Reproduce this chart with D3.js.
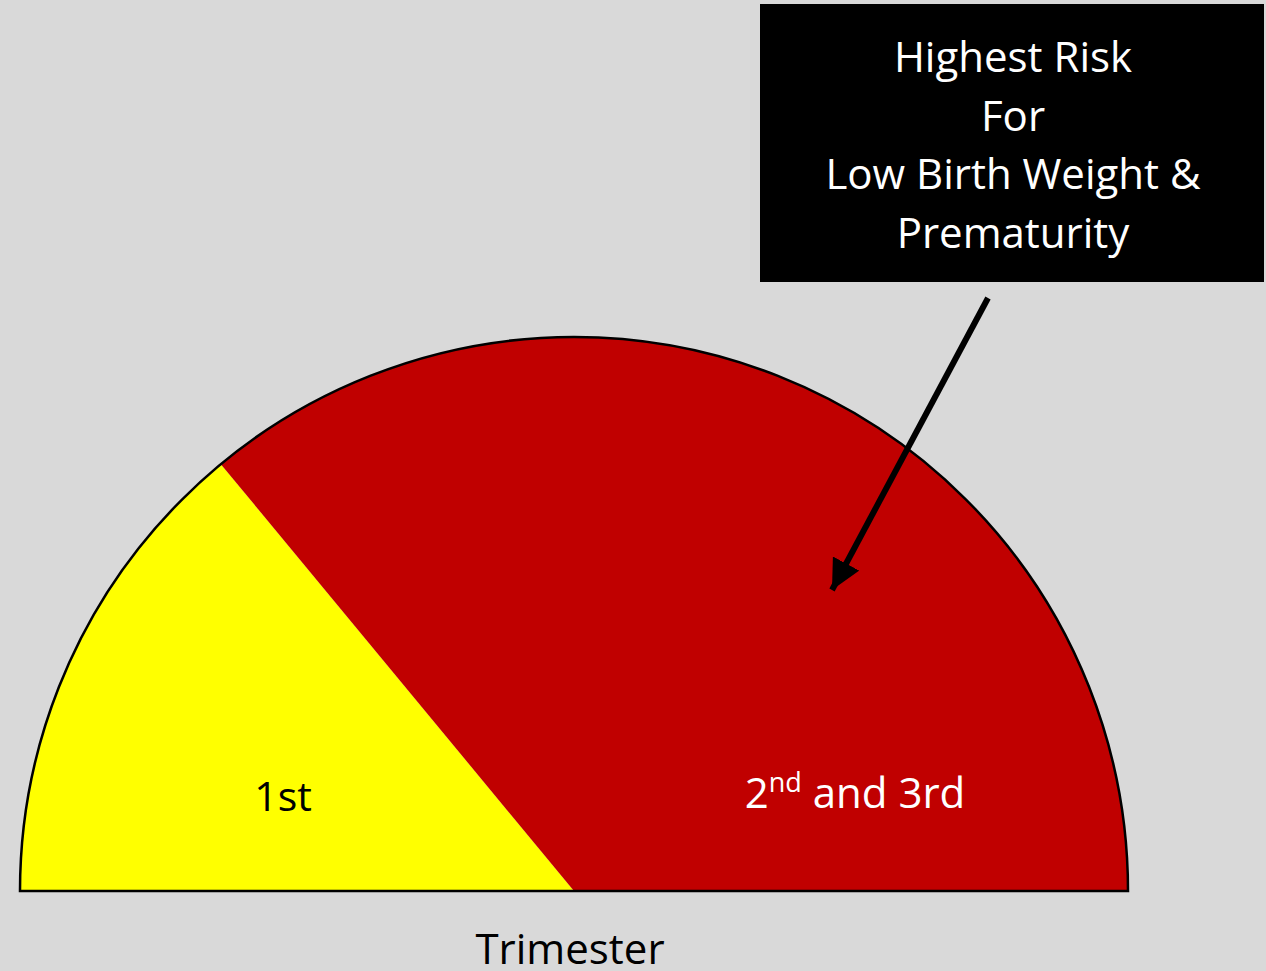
<!DOCTYPE html>
<html><head><meta charset="utf-8">
<script src="https://cdn.jsdelivr.net/npm/d3@7"></script>
<style>html,body{margin:0;padding:0;background:#d9d9d9;overflow:hidden}</style>
</head><body>
<svg id="c" width="1266" height="971"></svg>
<script>
const categories = ["1st", "2nd and 3rd"];
const values = [28, 72];
const colors = ["#ffff00", "#c00000"];
const axisTitle = "Trimester";
const calloutLines = ["Highest Risk", "For", "Low Birth Weight &", "Prematurity"];

const W = 1266, H = 971;
const svg = d3.select("#c");
svg.append("rect").attr("width", W).attr("height", H).attr("fill", "#d9d9d9");

const cx = 574, cy = 891, R = 554;
const font = "'Open Sans', Lato, sans-serif";

const pie = d3.pie().sort(null).startAngle(-Math.PI / 2).endAngle(Math.PI / 2);
const arcs = pie(values);
const arc = d3.arc().innerRadius(0).outerRadius(R);

const g = svg.append("g").attr("transform", `translate(${cx},${cy})`);
g.selectAll("path.slice").data(arcs).join("path")
  .attr("class", "slice")
  .attr("d", arc)
  .attr("fill", (d, i) => colors[i]);

g.append("path")
  .attr("d", d3.arc().innerRadius(0).outerRadius(R)({startAngle: -Math.PI / 2, endAngle: Math.PI / 2}))
  .attr("fill", "none").attr("stroke", "#000").attr("stroke-width", 2.5)
  .attr("stroke-linejoin", "miter");

g.append("text").attr("x", 283 - cx).attr("y", 811 - cy)
  .attr("text-anchor", "middle").attr("font-family", font).attr("font-size", 41)
  .attr("fill", "#000").text(categories[0]);

const t2 = g.append("text").attr("x", 855 - cx).attr("y", 808 - cy)
  .attr("text-anchor", "middle").attr("font-family", font).attr("font-size", 42)
  .attr("fill", "#fff");
const parts = categories[1].match(/^(\d)(\w+)(.*)$/);
t2.append("tspan").text(parts[1]);
t2.append("tspan").attr("dy", -16).attr("font-size", 27).text(parts[2]);
t2.append("tspan").attr("dy", 16).text(parts[3]);

svg.append("text").attr("x", 570).attr("y", 964).attr("text-anchor", "middle")
  .attr("font-family", font).attr("font-size", 42).attr("fill", "#000").text(axisTitle);

svg.append("rect").attr("x", 760).attr("y", 4).attr("width", 504).attr("height", 278).attr("fill", "#000");
const ct = svg.append("text").attr("text-anchor", "middle").attr("font-family", font)
  .attr("font-size", 42).attr("fill", "#fff");
calloutLines.forEach((l, i) => {
  ct.append("tspan").attr("x", 1013).attr("y", 72 + i * 58.5).text(l);
});

const defs = svg.append("defs");
defs.append("marker").attr("id", "ah").attr("viewBox", "0 0 10 10")
  .attr("refX", 10).attr("refY", 5).attr("markerWidth", 5).attr("markerHeight", 5)
  .attr("markerUnits", "strokeWidth").attr("orient", "auto")
  .append("path").attr("d", "M0,0 L10,5 L0,10 Z").attr("fill", "#000");
svg.append("line").attr("x1", 988).attr("y1", 298).attr("x2", 832).attr("y2", 590)
  .attr("stroke", "#000").attr("stroke-width", 6).attr("marker-end", "url(#ah)");
</script>
</body></html>
